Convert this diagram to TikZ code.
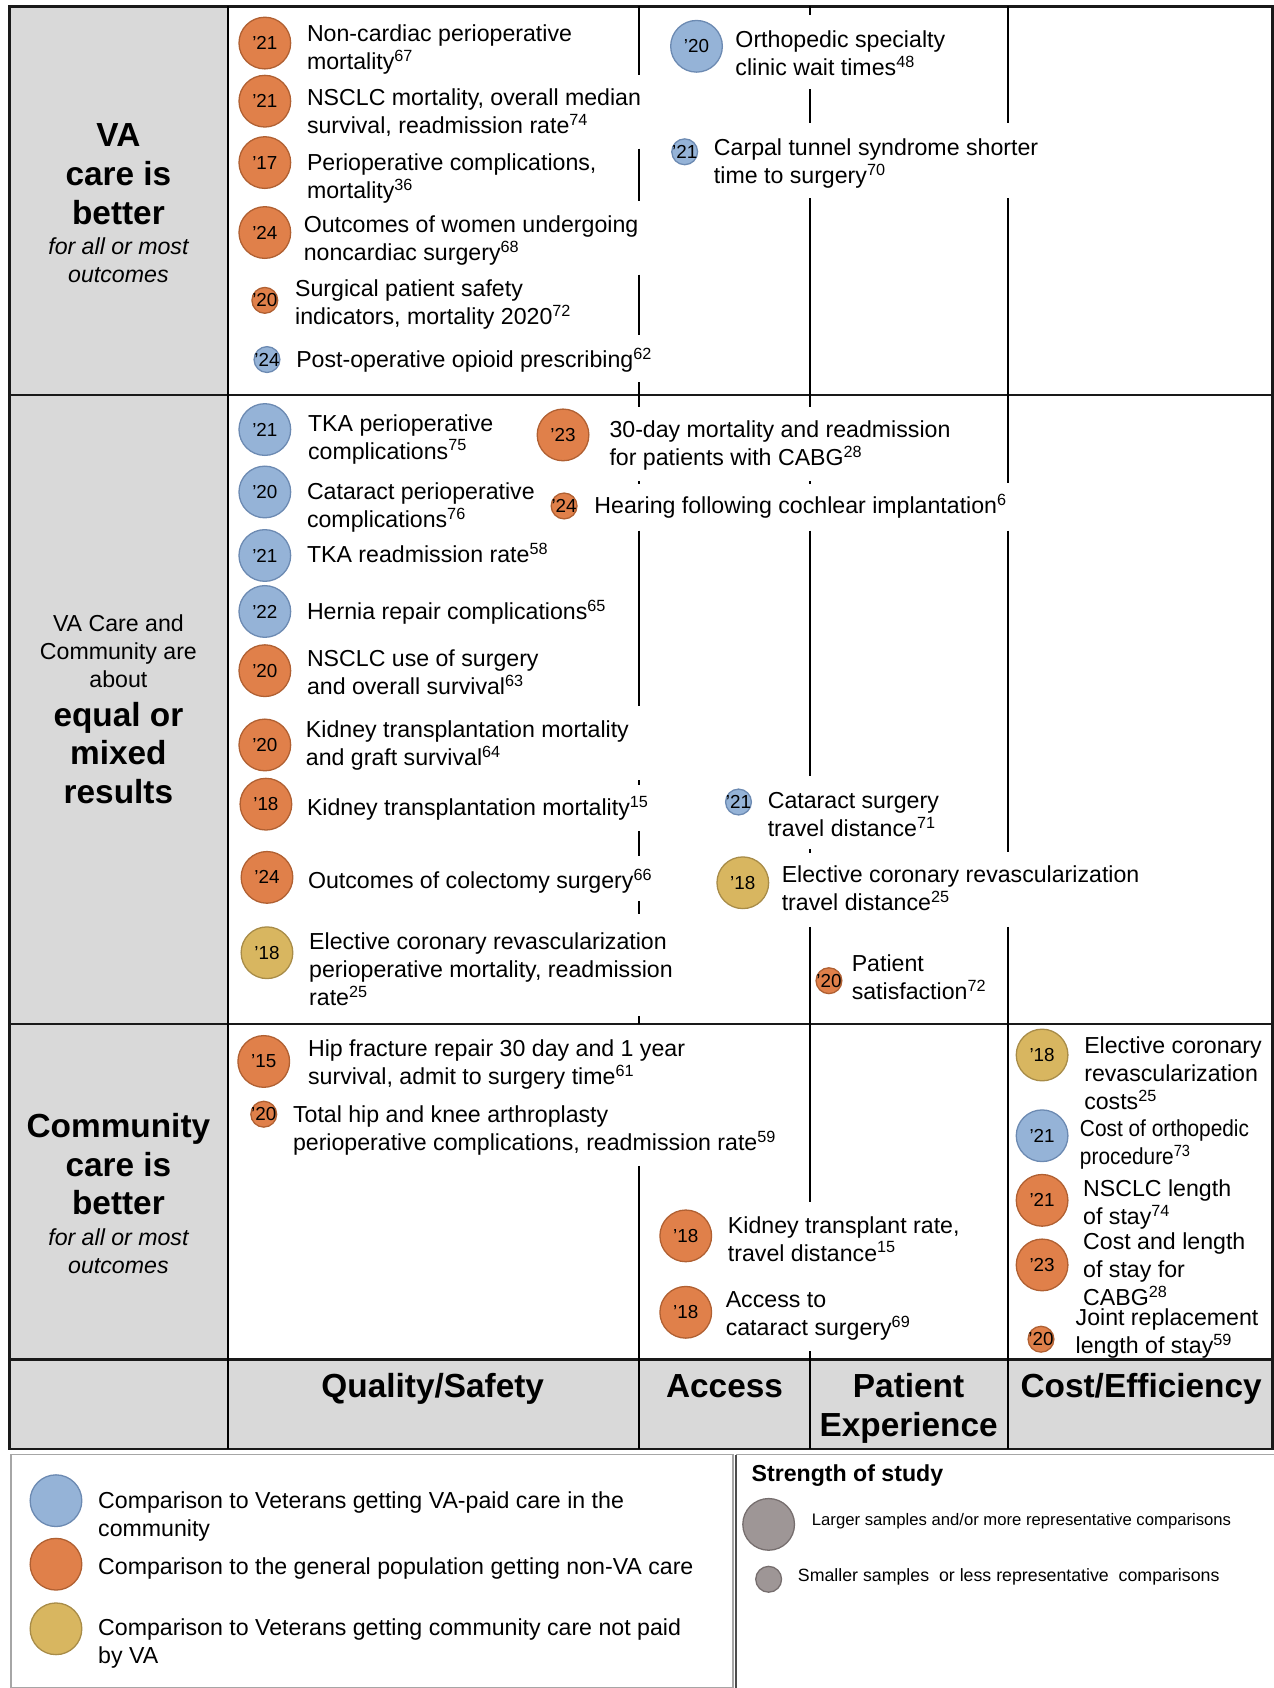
\documentclass[tikz,border=0pt]{standalone}
\usepackage{fontspec}
\setmainfont{Liberation Sans}
\newfontfamily\condf{Liberation Sans}[FakeStretch=0.9]
\definecolor{hdrgray}{RGB}{217,217,217}
\definecolor{cblf}{RGB}{149,179,215}
\definecolor{cblb}{RGB}{108,138,178}
\definecolor{corf}{RGB}{224,128,74}
\definecolor{corb}{RGB}{176,96,50}
\definecolor{cgdf}{RGB}{216,182,96}
\definecolor{cgdb}{RGB}{168,140,72}
\definecolor{cgyf}{RGB}{158,150,150}
\definecolor{cgyb}{RGB}{118,110,110}
\newcommand{\entry}[8]{%
  \node[dot,#2,label={[lbl]center:’#5}] (#1c) at (#3,#4) {};
  \node[itemtxt] (#1t) at (#6,#7) {\strut #8};}
\begin{document}
\begin{tikzpicture}[x=1pt,y=-1pt,
  dot/.style={circle,inner sep=0pt,line width=1.2pt},
  bigdot/.style={minimum size=48pt},
  smalldot/.style={minimum size=24pt},
  cbl/.style={fill=cblf,draw=cblb},
  cor/.style={fill=corf,draw=corb},
  cgd/.style={fill=cgdf,draw=cgdb},
  cgy/.style={fill=cgyf,draw=cgyb},
  lbl/.style={inner sep=0pt,font=\fontsize{17.5}{17.5}\selectfont},
  itemtxt/.style={anchor=north west,inner sep=0pt,align=left,font=\fontsize{21.5}{26}\selectfont,yshift=11pt},
  headbold/.style={anchor=north,inner sep=0pt,align=center,font=\fontsize{31}{36}\selectfont\bfseries,yshift=14pt},
  headreg/.style={anchor=north,inner sep=0pt,align=center,font=\fontsize{21.5}{26}\selectfont,yshift=11pt},
  headit/.style={anchor=north,inner sep=0pt,align=center,font=\fontsize{21.5}{26}\selectfont\itshape,yshift=11pt},
  gridline/.style={line width=1.8pt,black},
  framewidth/.style={line width=2.4pt,black!90}]
\useasboundingbox (0,0) rectangle (1183,1568);
% backgrounds
\fill[hdrgray] (9,6) rectangle (212,1346);
\fill[hdrgray] (212,1263) rectangle (1182,1346);
% horizontal dividers
\draw[framewidth] (9,367) -- (1182,367) (9,951) -- (1182,951) (9,1263) -- (1182,1263);
\draw[framewidth] (9,6) rectangle (1182,1346);
\draw[gridline] (212,6) -- (212,1346);
% column line A
\draw[gridline] (594,6) -- (594,70) (594,138) -- (594,187) (594,255) -- (594,311) (594,355) -- (594,378)
  (594,447) -- (594,450) (594,493) -- (594,656) (594,725) -- (594,729) (594,772) -- (594,795)
  (594,837) -- (594,849) (594,944) -- (594,951) (594,1083) -- (594,1346);
% column line B
\draw[gridline] (752,6) -- (752,14) (752,83) -- (752,114) (752,184) -- (752,378)
  (752,447) -- (752,450) (752,493) -- (752,721) (752,789) -- (752,792) (752,861) -- (752,1117)
  (752,1255) -- (752,1346);
% column line C
\draw[gridline] (936,6) -- (936,114) (936,184) -- (936,449) (936,493) -- (936,791) (936,861) -- (936,1346);
% row headers
\node[headbold] (h1) at (110,125) {\strut VA\\care is\\better};
\node[headit] (h1i) at (110,229) {\strut for all or most\\outcomes};
\node[headreg] (h2r) at (110,579) {\strut VA Care and\\Community are\\about};
\node[headbold] (h2) at (110,663) {\strut equal or\\mixed\\results};
\node[headbold] (h3) at (110,1045) {\strut Community\\care is\\better};
\node[headit] (h3i) at (110,1150) {\strut for all or most\\outcomes};
% column headers
\node[headbold] (k1) at (402,1287) {\strut Quality/Safety};
\node[headbold] (k2) at (673,1287) {\strut Access};
\node[headbold] (k3) at (844,1287) {\strut Patient\\Experience};
\node[headbold] (k4) at (1060,1287) {\strut Cost/Efficiency};
% row 1
\entry{a1}{bigdot,cor}{246}{40}{21}{285}{31}{Non-cardiac perioperative\\mortality\textsuperscript{67}}
\entry{a2}{bigdot,cor}{246}{94}{21}{285}{91}{NSCLC mortality, overall median\\survival, readmission rate\textsuperscript{74}}
\entry{a3}{bigdot,cor}{246}{151}{17}{285}{151}{Perioperative complications,\\mortality\textsuperscript{36}}
\entry{a4}{bigdot,cor}{246}{216}{24}{282}{209}{Outcomes of women undergoing\\noncardiac surgery\textsuperscript{68}}
\entry{a5}{smalldot,cor}{246}{279}{20}{274}{268}{Surgical patient safety\\indicators, mortality 2020\textsuperscript{72}}
\entry{a6}{smalldot,cbl}{248}{334}{24}{275}{334}{Post-operative opioid prescribing\textsuperscript{62}}
\entry{a7}{bigdot,cbl}{647}{43}{20}{683}{37}{Orthopedic specialty\\clinic wait times\textsuperscript{48}}
\entry{a8}{smalldot,cbl}{636}{141}{21}{663}{137}{Carpal tunnel syndrome shorter\\time to surgery\textsuperscript{70}}
% row 2
\entry{b1}{bigdot,cbl}{246}{399}{21}{286}{393}{TKA perioperative\\complications\textsuperscript{75}}
\entry{b2}{bigdot,cbl}{246}{457}{20}{285}{457}{Cataract perioperative\\complications\textsuperscript{76}}
\entry{b3}{bigdot,cbl}{246}{516}{21}{285}{515}{TKA readmission rate\textsuperscript{58}}
\entry{b4}{bigdot,cbl}{246}{568}{22}{285}{568}{Hernia repair complications\textsuperscript{65}}
\entry{b5}{bigdot,cor}{246}{623}{20}{285}{612}{NSCLC use of surgery\\and overall survival\textsuperscript{63}}
\entry{b6}{bigdot,cor}{246}{692}{20}{284}{678}{Kidney transplantation mortality\\and graft survival\textsuperscript{64}}
\entry{b7}{bigdot,cor}{247}{747}{18}{285}{750}{Kidney transplantation mortality\textsuperscript{15}}
\entry{b8}{bigdot,cor}{248}{815}{24}{286}{818}{Outcomes of colectomy surgery\textsuperscript{66}}
\entry{b9}{bigdot,cgd}{248}{885}{18}{287}{875}{Elective coronary revascularization\\perioperative mortality, readmission\\rate\textsuperscript{25}}
\entry{b10}{bigdot,cor}{523}{404}{23}{566}{399}{30-day mortality and readmission\\for patients with CABG\textsuperscript{28}}
\entry{b11}{smalldot,cor}{524}{470}{24}{552}{470}{Hearing following cochlear implantation\textsuperscript{6}}
\entry{b12}{smalldot,cbl}{686}{745}{21}{713}{744}{Cataract surgery\\travel distance\textsuperscript{71}}
\entry{b13}{bigdot,cgd}{690}{820}{18}{726}{812}{Elective coronary revascularization\\travel distance\textsuperscript{25}}
\entry{b14}{smalldot,cor}{770}{911}{20}{791}{895}{Patient\\satisfaction\textsuperscript{72}}
% row 3
\entry{c1}{bigdot,cor}{245}{986}{15}{286}{974}{Hip fracture repair 30 day and 1 year\\survival, admit to surgery time\textsuperscript{61}}
\entry{c2}{smalldot,cor}{245}{1035}{20}{272}{1035}{Total hip and knee arthroplasty\\perioperative complications, readmission rate\textsuperscript{59}}
\entry{c3}{bigdot,cor}{637}{1148}{18}{676}{1138}{Kidney transplant rate,\\travel distance\textsuperscript{15}}
\entry{c4}{bigdot,cor}{637}{1219}{18}{674}{1207}{Access to\\cataract surgery\textsuperscript{69}}
\entry{c5}{bigdot,cgd}{968}{980}{18}{1007}{971}{Elective coronary\\revascularization\\costs\textsuperscript{25}}
\entry{c6}{bigdot,cbl}{968}{1055}{21}{1003}{1048}{\condf Cost of orthopedic\\\condf procedure\textsuperscript{73}}
\entry{c7}{bigdot,cor}{968}{1115}{21}{1006}{1104}{NSCLC length\\of stay\textsuperscript{74}}
\entry{c8}{bigdot,cor}{968}{1175}{23}{1006}{1153}{Cost and length\\of stay for\\CABG\textsuperscript{28}}
\entry{c9}{smalldot,cor}{967}{1244}{20}{999}{1224}{Joint replacement\\length of stay\textsuperscript{59}}
% legend
\draw[line width=1.5pt,black!35] (10,1351) rectangle (681,1568);
\draw[line width=1.5pt,black!35] (684,1351) -- (1183,1351);
\draw[line width=1.8pt,black!70] (684,1352) -- (684,1568);
\node[dot,bigdot,cbl] (l1c) at (52,1394) {};
\node[itemtxt] (l1t) at (91,1394) {\strut Comparison to Veterans getting VA-paid care in the\\community};
\node[dot,bigdot,cor] (l2c) at (52,1453) {};
\node[itemtxt] (l2t) at (91,1455) {\strut Comparison to the general population getting non-VA care};
\node[dot,bigdot,cgd] (l3c) at (52,1513) {};
\node[itemtxt] (l3t) at (91,1512) {\strut Comparison to Veterans getting community care not paid\\by VA};
\node[anchor=west,inner sep=0pt,font=\fontsize{21.5}{26}\selectfont\bfseries] (sos) at (698,1371) {Strength of study};
\node[dot,bigdot,cgy] (s1c) at (714,1416) {};
\node[anchor=west,inner sep=0pt,font=\fontsize{15.5}{20}\selectfont] (s1t) at (754,1413) {Larger samples and/or more representative comparisons};
\node[dot,smalldot,cgy] (s2c) at (714,1467) {};
\node[anchor=west,inner sep=0pt,font=\fontsize{16.5}{20}\selectfont] (s2t) at (741,1465) {Smaller samples\ \ or less representative\ \ comparisons};
\end{tikzpicture}
\end{document}
